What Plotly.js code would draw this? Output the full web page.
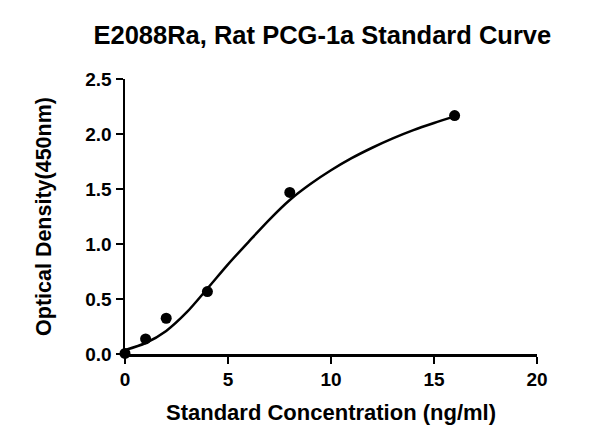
<!DOCTYPE html>
<html>
<head>
<meta charset="utf-8">
<script src="https://cdn.plot.ly/plotly-3.0.1.min.js"></script>
<style>
  html, body { margin: 0; padding: 0; background: #fff; }
  #chart { width: 600px; height: 446px; }
</style>
</head>
<body>
<div id="chart"></div>
<script>
// Measured standards
const concentration = [0, 1, 2, 4, 8, 16];
const opticalDensity = [0.005, 0.137, 0.325, 0.568, 1.469, 2.168];

// Fitted curve
const curveX = [0, 1, 2, 3, 4, 5, 6, 7, 8, 9, 10, 11, 12, 13, 14, 15, 16];
const curveY = [0.036, 0.10, 0.21, 0.38, 0.595, 0.815, 1.02, 1.22, 1.40, 1.545, 1.67, 1.78, 1.875, 1.96, 2.035, 2.10, 2.16];

const titleText = "E2088Ra, Rat PCG-1a Standard Curve";
const xTitle = "Standard Concentration (ng/ml)";
const yTitle = "Optical Density(450nm)";
const xTicks = [0, 5, 10, 15, 20];
const yTicks = [0, 0.5, 1.0, 1.5, 2.0, 2.5];

const font = "Arial, 'Liberation Sans', sans-serif";

const traces = [
  {
    x: curveX, y: curveY, type: "scatter", mode: "lines",
    line: { color: "#000", width: 2.5, shape: "spline", smoothing: 0.8 },
    hoverinfo: "skip", cliponaxis: false
  },
  {
    x: concentration, y: opticalDensity, type: "scatter", mode: "markers",
    marker: { color: "#000", size: 11, symbol: "circle" },
    cliponaxis: false
  }
];

const layout = {
  width: 600, height: 446,
  paper_bgcolor: "#fff", plot_bgcolor: "#fff",
  showlegend: false,
  margin: { l: 125, r: 63, t: 79, b: 92, pad: 0 },
  font: { family: font, color: "#000" },
  title: {
    text: "<b>" + titleText + "</b>",
    font: { family: font, size: 25.5, color: "#000" },
    xref: "paper", x: 0.479, xanchor: "center",
    yref: "container", y: 1 - 35 / 446, yanchor: "middle"
  },
  xaxis: {
    range: [0, 20], tickvals: xTicks, ticktext: xTicks.map(String),
    showgrid: false, zeroline: false,
    showline: true, linecolor: "#000", linewidth: 2.5,
    ticks: "outside", ticklen: 7, tickwidth: 2.5, tickcolor: "#000",
    tickfont: { family: font, size: 19, color: "#000", weight: "bold" },
    title: { text: "<b>" + xTitle + "</b>", font: { family: font, size: 22, color: "#000" }, standoff: 16 }
  },
  yaxis: {
    range: [0, 2.5], tickvals: yTicks, ticktext: yTicks.map(v => v.toFixed(1)),
    showgrid: false, zeroline: false,
    showline: true, linecolor: "#000", linewidth: 2.5,
    ticks: "outside", ticklen: 7, tickwidth: 2.5, tickcolor: "#000",
    tickfont: { family: font, size: 19, color: "#000", weight: "bold" },
    title: { text: "<b>" + yTitle + "</b>", font: { family: font, size: 21.5, color: "#000" }, standoff: 28 }
  }
};

Plotly.newPlot("chart", traces, layout, { displayModeBar: false, staticPlot: true });
</script>
</body>
</html>
